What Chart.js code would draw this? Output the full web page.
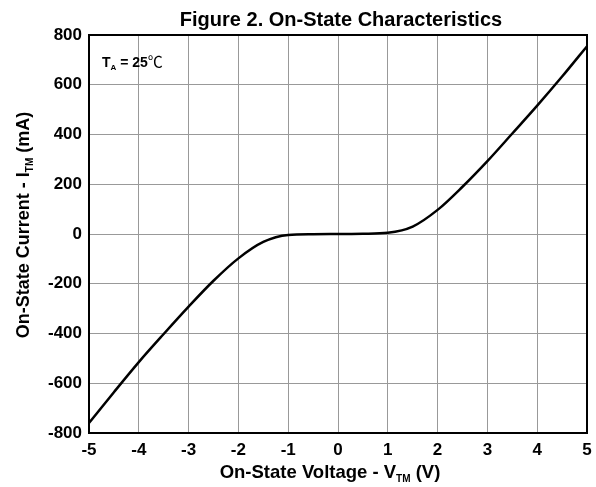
<!DOCTYPE html>
<html>
<head>
<meta charset="utf-8">
<script src="https://cdn.jsdelivr.net/npm/chart.js@4.4.1/dist/chart.umd.min.js"></script>
<style>
  html, body { margin: 0; padding: 0; background: #fff; }
  #wrap { width: 596px; height: 487px; position: relative; }
</style>
</head>
<body>
<div id="wrap"><canvas id="onStateChart"></canvas></div>
<script>
// On-state voltage (V) and current (mA)
const voltage = [-5, -4.5, -4, -3.5, -3, -2.5, -2, -1.5, -1, -0.5, 0, 0.5, 1, 1.5, 2, 2.5, 3, 3.5, 4, 4.5, 5];
const current = [-760, -636, -515, -402, -292, -188, -98, -32, -4, -1, 0, 1, 5, 30, 97, 190, 293, 404, 516, 633, 755];

const xTicks = [-5, -4, -3, -2, -1, 0, 1, 2, 3, 4, 5];
const yTicks = [-800, -600, -400, -200, 0, 200, 400, 600, 800];

const FONT = '"Liberation Sans", Arial, sans-serif';

// draws a row of text pieces (some of them subscripts) centred on cx
function drawPieces(ctx, pieces, cx, y) {
    let total = 0;
    pieces.forEach(p => { ctx.font = p.font; total += ctx.measureText(p.text).width; });
    let x = cx - total / 2;
    ctx.textAlign = 'left';
    ctx.textBaseline = 'alphabetic';
    pieces.forEach(p => {
        ctx.font = p.font;
        ctx.fillText(p.text, x, y + (p.dy || 0));
        x += ctx.measureText(p.text).width;
    });
}

const figureText = {
    id: 'figureText',
    afterDraw(chart) {
        const ctx = chart.ctx;
        const a = chart.chartArea;
        ctx.save();

        // plot frame
        ctx.strokeStyle = '#000';
        ctx.lineWidth = 2;
        ctx.strokeRect(a.left, a.top, a.right - a.left, a.bottom - a.top);

        ctx.fillStyle = '#000';

        // title
        drawPieces(ctx, [
            { text: 'Figure 2. On-State Characteristics', font: 'bold 20px ' + FONT }
        ], 341, 26);

        // x axis title
        drawPieces(ctx, [
            { text: 'On-State Voltage - V', font: 'bold 18.5px ' + FONT },
            { text: 'TM', font: 'bold 10px ' + FONT, dy: 4 },
            { text: ' (V)', font: 'bold 18.5px ' + FONT }
        ], 330, 478);

        // y axis title (rotated)
        ctx.save();
        ctx.translate(29, 225);
        ctx.rotate(-Math.PI / 2);
        drawPieces(ctx, [
            { text: 'On-State Current - I', font: 'bold 18px ' + FONT },
            { text: 'TM', font: 'bold 10px ' + FONT, dy: 4 },
            { text: ' (mA)', font: 'bold 18px ' + FONT }
        ], 0, 0);
        ctx.restore();

        // temperature note
        ctx.textAlign = 'left';
        let x = 102;
        const base = 67;
        ctx.font = 'bold 14px ' + FONT;
        ctx.fillText('T', x, base);
        x += ctx.measureText('T').width;
        ctx.font = 'bold 8px ' + FONT;
        ctx.fillText('A', x, base + 3);
        x += ctx.measureText('A').width;
        ctx.font = 'bold 14px ' + FONT;
        ctx.fillText(' = 25', x, base);
        x += ctx.measureText(' = 25').width;
        ctx.font = '15px "Noto Sans CJK SC", ' + FONT;
        ctx.fillText('℃', x, base);

        ctx.restore();
    }
};

const onStateChart = new Chart(document.getElementById('onStateChart'), {
    type: 'line',
    data: {
        datasets: [{
            label: 'I_TM',
            data: voltage.map((v, i) => ({ x: v, y: current[i] })),
            borderColor: '#000',
            borderWidth: 2.5,
            pointRadius: 0,
            cubicInterpolationMode: 'monotone',
            fill: false
        }]
    },
    options: {
        responsive: true,
        maintainAspectRatio: false,
        animation: false,
        layout: {
            padding: { top: 35, right: 9, left: 0, bottom: 0 }
        },
        plugins: {
            legend: { display: false },
            tooltip: { enabled: false },
            title: { display: false }
        },
        scales: {
            x: {
                type: 'linear',
                min: -5,
                max: 5,
                afterBuildTicks: scale => { scale.ticks = xTicks.map(v => ({ value: v })); },
                afterFit: scale => {
                    scale.height = 54;
                    scale.paddingLeft = 0;
                    scale.paddingRight = 0;
                },
                grid: { color: '#999', lineWidth: 1, drawTicks: false },
                border: { display: false },
                ticks: {
                    color: '#000',
                    padding: 7,
                    maxRotation: 0,
                    font: { family: FONT, size: 17, weight: 'bold' }
                }
            },
            y: {
                min: -800,
                max: 800,
                afterBuildTicks: scale => { scale.ticks = yTicks.map(v => ({ value: v })); },
                afterFit: scale => { scale.width = 89; },
                grid: { color: '#999', lineWidth: 1, drawTicks: false },
                border: { display: false },
                ticks: {
                    color: '#000',
                    padding: 7,
                    font: { family: FONT, size: 17, weight: 'bold' }
                }
            }
        }
    },
    plugins: [figureText]
});
</script>
</body>
</html>
